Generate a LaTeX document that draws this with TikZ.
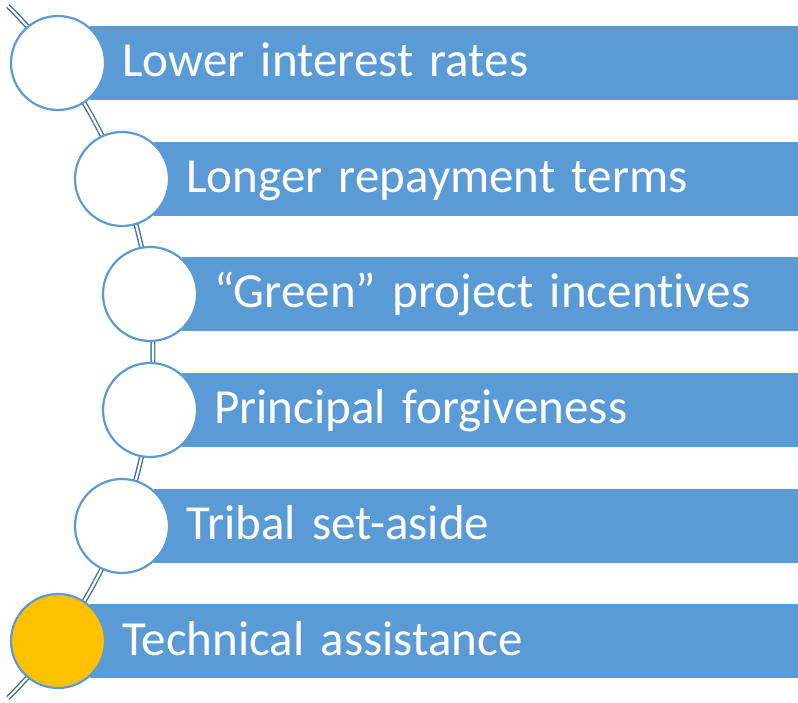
\documentclass[tikz,border=0pt]{standalone}
\usepackage{fontspec}
\setmainfont[Ligatures=NoCommon]{Carlito}
\usetikzlibrary{positioning}
\definecolor{barblue}{RGB}{91,155,213}
\definecolor{spineblue}{RGB}{65,113,156}
\definecolor{dotgold}{RGB}{255,192,0}

\begin{document}
\begin{tikzpicture}[x=1pt,y=1pt,
    bar/.style={fill=barblue, text=white, anchor=west, inner xsep=32pt, inner ysep=0pt,
      minimum height=74pt, text width=#1, align=left, text height=38pt, text depth=10pt,
      font=\fontsize{49}{60}\selectfont},
    dot/.style={circle, draw=barblue, line width=2.2pt, fill=white, minimum size=94pt, inner sep=0pt},
    spine/.style={draw=spineblue, double=white, line width=1.4pt, double distance=2.2pt}]
  \useasboundingbox (0,0) rectangle (798,702);
  \coordinate (hub) at (-332,350);
  \coordinate (p1) at (58,639);
  \coordinate (p2) at (122,523);
  \coordinate (p3) at (150,408);
  \coordinate (p4) at (150,292);
  \coordinate (p5) at (122,176);
  \coordinate (p6) at (58,61);
  % curved spine behind the dots
  \draw[spine] ([shift={(-45.5:485)}]hub) arc[start angle=-45.5, end angle=45.5, radius=485];
  % bars
  \node[bar=644pt] (b1) at ([xshift=32pt]p1) {Lower interest rates};
  \node[bar=580pt] (b2) at ([xshift=32pt]p2) {Longer repayment terms};
  \node[bar=552pt] (b3) at ([xshift=32pt]p3) {“Green” project incentives};
  \node[bar=552pt] (b4) at ([xshift=32pt]p4) {Principal forgiveness};
  \node[bar=580pt] (b5) at ([xshift=32pt]p5) {Tribal set-aside};
  \node[bar=644pt] (b6) at ([xshift=32pt]p6) {Technical assistance};
  % dots
  \node[dot] (d1) at (p1) {};
  \node[dot] (d2) at (p2) {};
  \node[dot] (d3) at (p3) {};
  \node[dot] (d4) at (p4) {};
  \node[dot] (d5) at (p5) {};
  \node[dot, fill=dotgold] (d6) at (p6) {};
\end{tikzpicture}
\end{document}
